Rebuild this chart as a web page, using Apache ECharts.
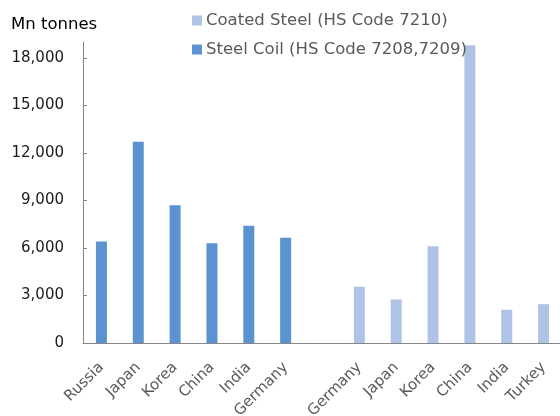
<!DOCTYPE html>
<html>
<head>
<meta charset="utf-8">
<script src="https://cdn.jsdelivr.net/npm/echarts@6/dist/echarts.min.js"></script>
<style>
  html, body { margin: 0; padding: 0; background: #fff; }
  #chart { width: 560px; height: 416px; }
</style>
</head>
<body>
<div id="chart"></div>
<script>
// categories: six coil exporters, a spacer, six coated-steel exporters
const categories = ['Russia', 'Japan', 'Korea', 'China', 'India', 'Germany', '',
  'Germany', 'Japan', 'Korea', 'China', 'India', 'Turkey'];
const coilValues = [6400, 12700, 8700, 6300, 7400, 6650, null, null, null, null, null, null, null];
const coatedValues = [null, null, null, null, null, null, null, 3550, 2750, 6100, 18800, 2100, 2450];
const yTicks = [0, 3000, 6000, 9000, 12000, 15000, 18000];

const FONT = 'DejaVu Sans';
const chart = echarts.init(document.getElementById('chart'));

const option = {
  animation: false,
  textStyle: { fontFamily: FONT },
  legend: {
    orient: 'vertical',
    left: 187,
    top: 7,
    itemWidth: 10,
    itemHeight: 10,
    itemGap: 12,
    icon: 'rect',
    textStyle: { fontFamily: FONT, fontSize: 16.5, color: '#595959', padding: [0, 0, 0, -1] },
    data: ['Coated Steel (HS Code 7210)', 'Steel Coil (HS Code 7208,7209)']
  },
  graphic: [{
    type: 'text',
    left: 11,
    top: 16,
    style: { text: 'Mn tonnes', fontFamily: FONT, fontSize: 16.5, fill: '#000' }
  }],
  grid: { left: 83, top: 42, width: 479, bottom: 73, outerBoundsMode: 'none' },
  xAxis: {
    type: 'category',
    data: categories,
    axisLine: { lineStyle: { color: '#868686', width: 1 } },
    axisTick: { inside: true, length: 5, lineStyle: { color: '#333' } },
    axisLabel: {
      interval: 0,
      rotate: 45,
      margin: 22,
      fontFamily: FONT,
      fontSize: 15,
      color: '#595959'
    }
  },
  yAxis: {
    type: 'value',
    min: 0,
    max: 19000,
    splitLine: { show: false },
    axisLine: { show: true, lineStyle: { color: '#868686', width: 1 } },
    axisTick: { show: true, inside: true, length: 4, lineStyle: { color: '#868686' }, customValues: yTicks },
    axisLabel: {
      margin: 19,
      fontFamily: FONT,
      fontSize: 15,
      color: '#1a1a1a',
      customValues: yTicks,
      formatter: v => v.toLocaleString('en-US')
    }
  },
  series: [
    {
      name: 'Steel Coil (HS Code 7208,7209)',
      type: 'bar',
      barWidth: 11,
      barGap: '-100%',
      data: coilValues,
      itemStyle: { color: '#5B93D0' }
    },
    {
      name: 'Coated Steel (HS Code 7210)',
      type: 'bar',
      barWidth: 11,
      barGap: '-100%',
      data: coatedValues,
      itemStyle: { color: '#AEC3E6' }
    }
  ]
};

chart.setOption(option);
</script>
</body>
</html>
